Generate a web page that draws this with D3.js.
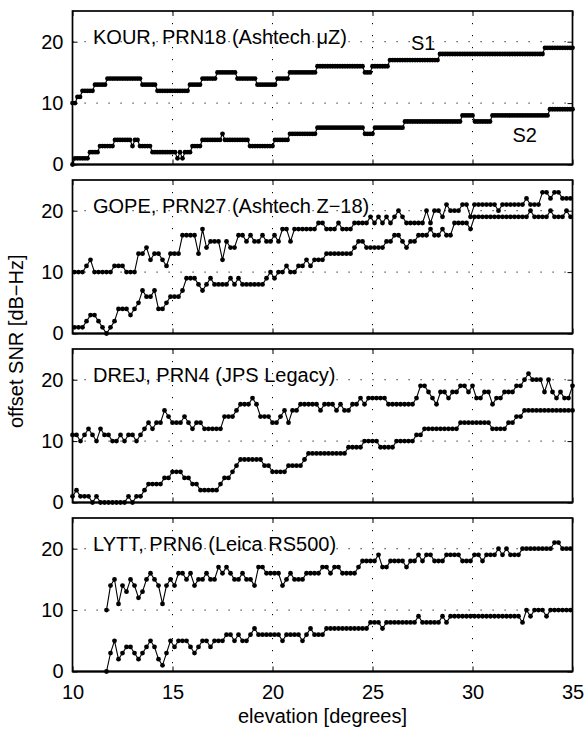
<!DOCTYPE html>
<html lang="en">
<head>
<meta charset="UTF-8" />
<script src="https://cdn.jsdelivr.net/npm/d3@7"></script>
<title>offset SNR vs elevation</title>
<style>
  body { margin: 0; background: #fff; }
  text { font-family: "Liberation Sans", Arial, Helvetica, sans-serif; font-size: 20px; fill: #000; }
  .grid { stroke: #000; stroke-width: 1; stroke-dasharray: 1.2, 10.8; }
  .trace { fill: none; stroke: #000; stroke-width: 1.1; }
</style>
</head>
<body>
<script>
// site / satellite / receiver for each panel
var stations = ["KOUR, PRN18 (Ashtech \u03bcZ)", "GOPE, PRN27 (Ashtech Z\u221218)",
                "DREJ, PRN4 (JPS Legacy)", "LYTT, PRN6 (Leica RS500)"];

// elevation of first sample and spacing between samples, degrees
var elevFirst = [10, 10.1, 10, 11.7];
var elevStep = [0.125, 0.2, 0.2, 0.2];

var xTicks = [10, 15, 20, 25, 30, 35];
var yTicks = [0, 10, 20];

// offset SNR, dB-Hz
var kourS1 = [10,10,11,11,12,12,12,12,12,13,
  13,13,13,13,14,14,14,14,14,14,
  14,14,14,14,14,14,14,14,13,13,
  13,13,13,13,12,12,12,12,12,12,
  12,12,12,12,12,12,12,13,13,13,
  13,13,14,14,14,14,14,14,15,15,
  15,15,15,15,15,15,14,14,14,14,
  14,14,14,14,13,13,13,13,13,13,
  13,13,14,14,14,14,14,15,15,15,
  15,15,15,15,15,15,15,15,16,16,
  16,16,16,16,16,16,16,16,16,16,
  16,16,16,16,16,16,16,15,15,15,
  16,16,16,16,16,16,16,17,17,17,
  17,17,17,17,17,17,17,17,17,17,
  17,17,17,17,17,17,17,18,18,18,
  18,18,18,18,18,18,18,18,18,18,
  18,18,18,18,18,18,18,18,18,18,
  18,18,18,18,18,18,18,18,18,18,
  18,18,18,18,18,18,18,18,18,19,
  19,19,19,19,19,19,19,19,19,19,
  19];
var kourS2 = [0,1,1,1,1,1,1,2,2,2,
  2,3,3,3,3,3,3,4,4,4,
  4,4,4,4,3,4,4,3,3,3,
  3,3,2,2,2,2,2,2,2,2,
  2,2,1,2,1,2,2,2,3,3,
  3,3,4,4,4,4,4,4,4,4,
  5,4,4,4,4,4,4,4,4,4,
  4,3,3,3,3,3,3,3,3,3,
  3,4,4,4,4,4,4,5,5,5,
  5,5,5,5,5,5,5,5,6,6,
  6,6,6,6,6,6,6,6,6,6,
  6,6,6,6,6,6,6,5,5,5,
  5,6,6,6,6,6,6,6,6,6,
  6,6,6,7,7,7,7,7,7,7,
  7,7,7,7,7,7,7,7,7,7,
  7,7,7,7,7,7,8,8,8,8,
  8,7,7,7,7,7,7,7,8,8,
  8,8,8,8,8,8,8,8,8,8,
  8,8,8,8,8,8,8,8,8,8,
  8,9,9,9,9,9,9,9,9,9,
  9];

var gopeS1 = [10,10,10,11,12,10,10,10,10,10,
  11,11,11,10,10,10,13,13,14,12,
  13,13,12,11,13,13,13,16,16,16,
  16,13,17,14,15,15,15,12,15,14,
  14,16,16,15,16,15,15,16,15,15,
  16,15,17,17,15,17,17,17,17,17,
  17,18,18,17,17,17,18,17,17,17,
  18,18,18,18,19,18,19,18,19,18,
  19,20,19,18,18,18,18,18,20,18,
  20,20,19,21,20,20,20,21,21,19,
  21,21,21,21,21,21,20,21,21,21,
  21,21,21,22,21,21,21,23,23,22,
  23,23,22,22,22];
var gopeS2 = [1,1,1,2,3,3,2,1,0,1,
  2,4,4,4,3,4,5,7,6,6,
  7,4,4,5,6,6,6,7,9,9,
  9,8,7,8,9,8,8,8,8,9,
  8,9,8,8,8,8,8,8,9,10,
  9,10,10,11,10,10,11,11,12,11,
  12,12,12,13,13,13,13,13,13,13,
  14,15,15,14,14,14,14,14,15,15,
  16,16,15,14,15,15,16,16,16,17,
  16,16,17,16,16,18,18,18,18,17,
  19,19,19,19,19,19,19,19,19,19,
  19,19,19,19,20,19,19,19,19,20,
  19,19,19,20,19];

var drejS1 = [11,11,10,11,12,11,10,12,11,11,
  10,10,11,10,11,11,10,11,12,13,
  12,13,13,15,14,13,13,13,14,13,
  12,13,13,12,12,12,12,12,14,14,
  14,15,16,16,16,17,16,14,14,14,
  13,13,14,15,13,15,15,16,16,16,
  16,16,15,16,16,16,15,16,15,15,
  16,16,17,16,17,17,17,17,17,16,
  16,16,16,16,16,16,17,19,19,18,
  17,16,18,18,17,18,18,19,19,18,
  19,17,17,18,18,16,17,17,18,18,
  18,19,19,20,21,20,20,20,18,20,
  18,17,18,17,17,19];
var drejS2 = [1,2,1,1,1,0,1,0,0,0,
  0,0,0,0,1,0,1,1,2,3,
  3,3,3,4,4,5,5,5,4,4,
  3,3,2,2,2,2,2,3,4,4,
  5,6,7,7,7,7,7,7,6,6,
  5,5,5,5,6,6,6,6,7,8,
  8,8,8,8,8,8,8,8,8,9,
  9,9,9,10,10,10,10,9,9,9,
  9,10,10,10,10,10,11,11,12,12,
  12,12,12,12,12,12,12,13,13,13,
  13,13,13,13,13,12,12,12,12,13,
  13,14,14,15,15,15,15,15,15,15,
  15,15,15,15,15,15];

var lyttS1 = [10,14,15,11,14,13,15,14,12,13,
  15,16,15,14,11,14,15,14,16,16,
  15,16,14,15,15,16,15,15,17,16,
  17,16,15,15,16,15,15,14,17,17,
  16,16,16,16,14,15,16,15,15,15,
  16,16,16,16,17,17,16,17,17,16,
  16,16,16,17,18,18,18,18,19,17,
  17,18,18,18,18,17,18,18,19,18,
  19,19,18,18,18,19,19,19,19,18,
  18,18,19,19,18,19,19,19,20,19,
  20,19,19,19,20,20,20,20,20,20,
  20,20,21,21,20,20,20];
var lyttS2 = [0,3,5,2,3,4,4,3,2,3,
  4,5,4,2,1,3,5,4,5,5,
  5,4,3,4,5,5,4,5,5,5,
  6,6,5,6,5,5,6,7,6,6,
  6,6,6,6,5,6,6,6,6,5,
  6,7,6,6,6,7,7,7,7,7,
  7,7,7,7,7,7,8,8,8,7,
  8,8,8,8,8,8,8,8,9,8,
  8,8,8,8,9,8,9,9,9,9,
  9,9,9,9,9,9,9,9,9,9,
  9,9,9,9,8,10,9,10,10,10,
  9,10,10,10,10,10,10];

var panels = [
  { title: stations[0], s1: kourS1, s2: kourS2, first: elevFirst[0], step: elevStep[0] },
  { title: stations[1], s1: gopeS1, s2: gopeS2, first: elevFirst[1], step: elevStep[1] },
  { title: stations[2], s1: drejS1, s2: drejS2, first: elevFirst[2], step: elevStep[2] },
  { title: stations[3], s1: lyttS1, s2: lyttS2, first: elevFirst[3], step: elevStep[3] }
];

var width = 584, height = 730;
var left = 72.5, right = 572.5;
var top0 = 11, panelH = 153.5, pitch = 169;

var svg = d3.select("body").append("svg")
  .attr("width", width).attr("height", height);

var x = d3.scaleLinear().domain([10, 35]).range([left, right]);
var y = d3.scaleLinear().domain([0, 25]).range([panelH, 0]);

function cleanAxis(sel) {
  sel.attr("font-family", null).attr("font-size", null);
  sel.select(".domain").remove();
  sel.selectAll(".tick line").attr("stroke-width", 1);
}

panels.forEach(function (p, k) {
  var g = svg.append("g").attr("transform", "translate(0," + (top0 + k * pitch) + ")");
  var last = (k === panels.length - 1);

  // dotted grid
  g.selectAll(".gx").data(xTicks.slice(1, -1)).enter().append("line")
    .attr("class", "grid")
    .attr("x1", function (d) { return x(d); }).attr("x2", function (d) { return x(d); })
    .attr("y1", 0).attr("y2", panelH);
  g.selectAll(".gy").data(yTicks.slice(1)).enter().append("line")
    .attr("class", "grid")
    .attr("x1", left).attr("x2", right)
    .attr("y1", function (d) { return y(d); }).attr("y2", function (d) { return y(d); });

  // ticks point inward on all four sides
  g.append("g").attr("transform", "translate(0," + panelH + ")")
    .call(d3.axisBottom(x).tickValues(xTicks).tickSize(-5).tickSizeOuter(0).tickPadding(13)
      .tickFormat(last ? d3.format("d") : ""))
    .call(cleanAxis);
  g.append("g")
    .call(d3.axisTop(x).tickValues(xTicks).tickSize(-5).tickSizeOuter(0).tickFormat(""))
    .call(cleanAxis);
  g.append("g").attr("transform", "translate(" + left + ",0)")
    .call(d3.axisLeft(y).tickValues(yTicks).tickSize(-5).tickSizeOuter(0).tickPadding(9)
      .tickFormat(d3.format("d")))
    .call(cleanAxis);
  g.append("g").attr("transform", "translate(" + right + ",0)")
    .call(d3.axisRight(y).tickValues(yTicks).tickSize(-5).tickSizeOuter(0).tickFormat(""))
    .call(cleanAxis);

  g.append("rect")
    .attr("x", left).attr("y", 0).attr("width", right - left).attr("height", panelH)
    .attr("fill", "none").attr("stroke", "#000").attr("stroke-width", 1.7);
  g.append("line")
    .attr("x1", left).attr("x2", right).attr("y1", panelH).attr("y2", panelH)
    .attr("stroke", "#000").attr("stroke-width", 2.2);

  var line = d3.line()
    .x(function (d, i) { return x(p.first + p.step * i); })
    .y(function (d) { return y(d); });

  [p.s1, p.s2].forEach(function (series) {
    g.append("path").datum(series).attr("class", "trace").attr("d", line);
    g.selectAll(null).data(series).enter().append("circle")
      .attr("cx", function (d, i) { return x(p.first + p.step * i); })
      .attr("cy", function (d) { return y(d); })
      .attr("r", 2.4)
      .attr("fill", "#000");
  });

  g.append("text").attr("x", 93).attr("y", 33).text(p.title);

  if (k === 0) {
    g.append("text").attr("x", 411).attr("y", 39).text("S1");
    g.append("text").attr("x", 512.5).attr("y", 130.5).text("S2");
  }
});

svg.append("text")
  .attr("x", (left + right) / 2).attr("y", 723)
  .attr("text-anchor", "middle")
  .text("elevation [degrees]");

svg.append("text")
  .attr("transform", "translate(23," + (top0 + (3 * pitch + panelH) / 2) + ") rotate(-90)")
  .attr("text-anchor", "middle")
  .text("offset SNR [dB\u2212Hz]");
</script>
</body>
</html>
